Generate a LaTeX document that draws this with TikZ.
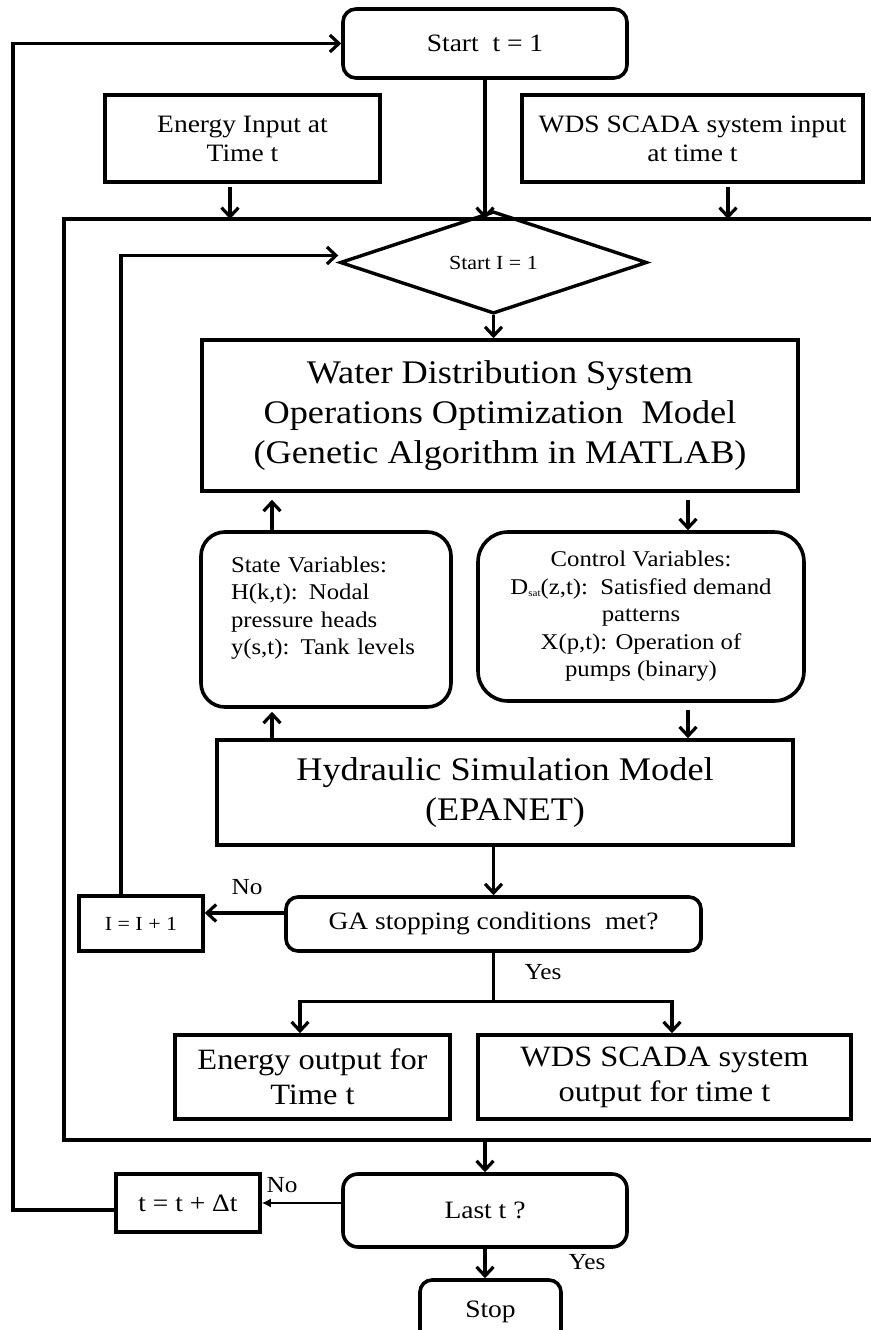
\documentclass[tikz,border=0pt]{standalone}
\usepackage{fontspec}
\setmainfont{Liberation Serif}[FakeStretch=1.1]
\usetikzlibrary{arrows.meta,shapes.geometric,calc}
\newcommand\fsz[2]{\fontsize{#1}{#2}\selectfont}
\begin{document}
\begin{tikzpicture}[x=1pt,y=-1pt,
  box/.style={draw,line width=3.6pt,inner sep=0pt,align=center,font=\fsz{25}{29}},
  rbox/.style={box,rounded corners=#1},
  rbox/.default=13pt,
  big/.style={font=\fsz{33}{40}},
  mid/.style={font=\fsz{29.5}{35}},
  var/.style={font=\fsz{22.5}{27.5}},
  small/.style={font=\fsz{20}{24}},
  conn/.style={line width=3.2pt},
  arr/.style={conn,-{Straight Barb[length=9pt,width=17pt]}},
  thinarr/.style={line width=1.6pt,-{Latex[length=9pt,width=9pt]}},
  lbl/.style={font=\fsz{23}{27},inner sep=0pt}
]
\useasboundingbox (0,0) rectangle (870,1330);

% outer time loop
\node[rbox] (startT) at (485,43.5) [minimum width=284pt,minimum height=69pt] {Start\ \ t = 1};
\node[box] (eIn) at (242.5,138.5) [minimum width=275pt,minimum height=87pt] {Energy Input at\\Time t};
\node[box] (wIn) at (692.5,138.5) [minimum width=341pt,minimum height=87pt] {WDS SCADA system input\\at time t};

% frame around the optimisation run
\coordinate (ftop) at (64,219);
\coordinate (fbot) at (64,1140);
\draw[line width=3.4pt] (874,219) -- (ftop) -- (fbot) -- (874,1140);

% inner GA loop
\node[draw,diamond,line width=3.4pt,inner sep=0pt,minimum width=307pt,minimum height=85pt,small] (startI) at (493.5,262.5) {Start I = 1};
\node[box,big] (wd) at (500,415.5) [minimum width=596pt,minimum height=151pt]
  {Water Distribution System\\Operations Optimization\ \ Model\\(Genetic Algorithm in MATLAB)};
\node[rbox=24pt,var,align=left,text width=190pt] (state) at (326,619.5) [minimum width=250pt,minimum height=175pt]
  {State Variables:\\H(k,t): Nodal\\pressure heads\\y(s,t): Tank levels\\\mbox{}};
\node[rbox=30pt,var] (control) at (641,616.5) [minimum width=326pt,minimum height=169pt]
  {Control Variables:\\D{\fsz{10}{10}\raisebox{-2pt}{sat}}(z,t):\ \ Satisfied demand\\patterns\\X(p,t): Operation of\\pumps (binary)};
\node[box,big] (hyd) at (505,792.5) [minimum width=576pt,minimum height=105pt]
  {Hydraulic Simulation Model\\(EPANET)};
\node[rbox=12pt] (ga) at (493.5,924) [minimum width=415pt,minimum height=54pt] {GA stopping conditions\ \ met?};
\node[box,small] (inc) at (141,923.5) [minimum width=124pt,minimum height=55pt] {I = I + 1};
\node[box,mid] (eOut) at (312.5,1077) [minimum width=275pt,minimum height=84pt] {Energy output for\\Time t};
\node[box,mid] (wOut) at (664.5,1077) [minimum width=373pt,minimum height=84pt] {WDS SCADA system\\output for time t};

% end of time step
\node[rbox=15pt] (last) at (485,1210.5) [minimum width=284pt,minimum height=73pt] {Last t ?};
\node[box] (tinc) at (188,1203) [minimum width=144pt,minimum height=58pt] {t = t + Δt};
\node[rbox=12pt] (stop) at (490.5,1312) [minimum width=141pt,minimum height=64pt] {Stop};

% helper columns for the vertical connectors
\coordinate (eArr) at (230,0);
\coordinate (wArr) at (728,0);
\coordinate (sArr) at (272,0);
\coordinate (cArr) at (688,0);
\coordinate (loopI) at (121,0);
\coordinate (loopT) at (13,0);
\coordinate (eDown) at (300,0);
\coordinate (wDown) at (672,0);

% connectors
\draw[arr] (startT.south) -- (startT.south |- ftop);
\draw[arr] ([yshift=-3pt]eIn.south -| eArr) -- (eArr |- ftop);
\draw[arr] ([yshift=-3pt]wIn.south -| wArr) -- (wArr |- ftop);
\draw[arr] (startI.south) -- (startI.south |- wd.north);
\draw[arr,shorten >=7pt] (state.north -| sArr) -- (wd.south -| sArr);
\draw[arr,shorten <=7pt] (wd.south -| cArr) -- (control.north -| cArr);
\draw[arr,shorten <=7pt] (control.south -| cArr) -- (hyd.north -| cArr);
\draw[arr,shorten >=3pt] (hyd.north -| sArr) -- (state.south -| sArr);
\draw[arr] (ga.north |- hyd.south) -- (ga.north);
\draw[arr] ([yshift=11pt]ga.west) -- ([yshift=11pt]ga.west -| inc.east);
\node[lbl] (noI) at (247,887) {No};
\draw[arr] (inc.north -| loopI) |- ([yshift=7pt]startI.west);
\coordinate (split) at ($(ga.south)+(0,49)$);
\draw[conn] (ga.south) -- (split);
\draw[arr] (split) -| (eOut.north -| eDown);
\draw[arr] (split) -| (wOut.north -| wDown);
\node[lbl] (yesGA) at (543,972) {Yes};
\draw[arr] (last.north |- fbot) -- (last.north);
\draw[thinarr] (last.west |- tinc.east) -- (tinc.east);
\node[lbl] (noT) at (282,1185) {No};
\draw[arr] (last.south) -- (last.south |- stop.north);
\node[lbl] (yesT) at (587,1262) {Yes};
\draw[arr] ([yshift=-7pt]tinc.west) -| (loopT |- startT.west) -- (startT.west);
\end{tikzpicture}
\end{document}
